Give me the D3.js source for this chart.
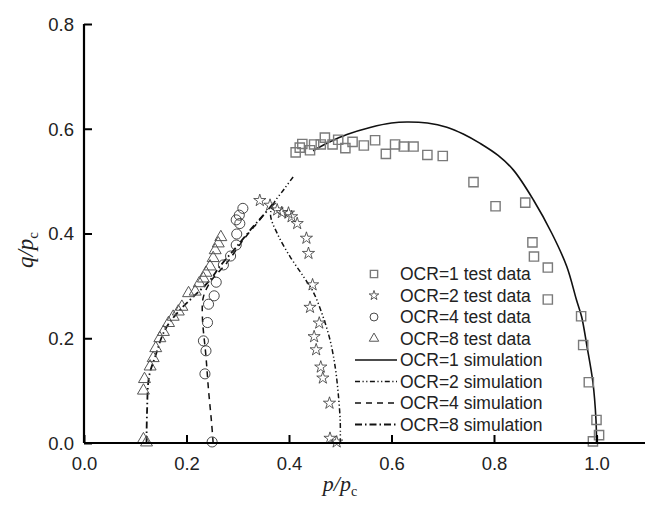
<!DOCTYPE html>
<html>
<head>
<meta charset="utf-8">
<script src="https://cdn.jsdelivr.net/npm/d3@7"></script>
<style>
  body { margin: 0; background: #fff; }
  text { font-family: "Liberation Sans", Arial, sans-serif; }
</style>
</head>
<body>
<svg width="645" height="516"></svg>
<script>
// test data (p/pc, q/pc)
var ocr1Data = [
  [0.413, 0.555], [0.421, 0.564], [0.426, 0.571], [0.441, 0.559], [0.449, 0.570],
  [0.462, 0.570], [0.470, 0.583], [0.485, 0.570], [0.496, 0.579], [0.510, 0.563],
  [0.524, 0.575], [0.546, 0.568], [0.568, 0.578], [0.589, 0.552], [0.607, 0.570],
  [0.624, 0.566], [0.643, 0.566], [0.670, 0.550], [0.700, 0.548], [0.760, 0.498],
  [0.803, 0.452], [0.861, 0.459], [0.875, 0.383], [0.878, 0.356], [0.905, 0.335],
  [0.905, 0.274], [0.970, 0.242], [0.974, 0.187], [0.985, 0.116], [1.000, 0.044],
  [1.005, 0.015], [0.993, 0.003]
];
var ocr2Data = [
  [0.343, 0.463], [0.363, 0.454], [0.377, 0.445], [0.386, 0.440], [0.399, 0.439],
  [0.405, 0.432], [0.416, 0.419], [0.434, 0.391], [0.438, 0.362], [0.446, 0.302],
  [0.441, 0.259], [0.459, 0.229], [0.449, 0.203], [0.453, 0.178], [0.462, 0.145],
  [0.466, 0.124], [0.479, 0.076], [0.480, 0.009], [0.493, 0.002]
];
var ocr4Data = [
  [0.250, 0.002], [0.236, 0.132], [0.238, 0.176], [0.233, 0.195], [0.241, 0.230],
  [0.243, 0.265], [0.254, 0.281], [0.258, 0.307], [0.272, 0.340], [0.286, 0.357],
  [0.297, 0.378], [0.298, 0.399], [0.297, 0.426], [0.304, 0.419], [0.303, 0.435],
  [0.310, 0.448]
];
var ocr8Data = [
  [0.116, 0.007], [0.122, 0.001], [0.116, 0.100], [0.118, 0.122], [0.129, 0.146],
  [0.135, 0.162], [0.140, 0.181], [0.148, 0.200], [0.155, 0.212], [0.165, 0.229],
  [0.174, 0.241], [0.184, 0.251], [0.191, 0.260], [0.204, 0.286], [0.217, 0.289],
  [0.225, 0.305], [0.233, 0.314], [0.238, 0.325], [0.246, 0.337], [0.252, 0.353],
  [0.256, 0.368], [0.262, 0.381], [0.267, 0.393]
];

// simulated stress paths
var ocr1Sim = [
  [1.000, 0.000], [1.000, 0.006], [0.999, 0.044], [0.993, 0.116], [0.981, 0.187],
  [0.971, 0.241], [0.961, 0.273], [0.942, 0.337], [0.913, 0.400], [0.877, 0.464],
  [0.838, 0.521], [0.808, 0.549], [0.773, 0.572], [0.740, 0.590], [0.708, 0.603],
  [0.670, 0.611], [0.630, 0.613], [0.600, 0.611], [0.560, 0.603], [0.513, 0.589],
  [0.480, 0.575], [0.447, 0.558]
];
var ocr2Sim = [
  [0.500, 0.000], [0.500, 0.040], [0.496, 0.095], [0.490, 0.146], [0.480, 0.197],
  [0.464, 0.248], [0.447, 0.289], [0.428, 0.318], [0.402, 0.356], [0.378, 0.398],
  [0.364, 0.435], [0.370, 0.457], [0.390, 0.484], [0.408, 0.508]
];
var ocr4Sim = [
  [0.252, 0.000], [0.249, 0.038], [0.243, 0.101], [0.238, 0.165], [0.231, 0.242],
  [0.233, 0.279], [0.249, 0.311], [0.278, 0.343], [0.311, 0.388], [0.337, 0.419],
  [0.356, 0.442]
];
var ocr8Sim = [
  [0.122, 0.000], [0.123, 0.060], [0.127, 0.127], [0.139, 0.165], [0.158, 0.216],
  [0.187, 0.254], [0.213, 0.279], [0.246, 0.311], [0.265, 0.337], [0.298, 0.375],
  [0.330, 0.413], [0.350, 0.435], [0.368, 0.456]
];

var xTicks = [0, 0.2, 0.4, 0.6, 0.8, 1.0];
var yTicks = [0, 0.2, 0.4, 0.6, 0.8];
var legendLabels = [
  "OCR=1 test data", "OCR=2 test data", "OCR=4 test data", "OCR=8 test data",
  "OCR=1 simulation", "OCR=2 simulation", "OCR=4 simulation", "OCR=8 simulation"
];

var svg = d3.select("svg");

var x = d3.scaleLinear().domain([0, 1.1]).range([84, 647.75]);
var y = d3.scaleLinear().domain([0, 0.8]).range([443, 24]);

var line = d3.line()
  .curve(d3.curveCatmullRom.alpha(0.5))
  .x(function (d) { return x(d[0]); })
  .y(function (d) { return y(d[1]); });

// styles for the four test series and the four simulations
var markers = [
  { data: ocr1Data, type: d3.symbolSquare, size: 85, stroke: "#7a7a7a", sw: 1.4 },
  { data: ocr2Data, type: d3.symbolStar, size: 46, stroke: "#333", sw: 0.8 },
  { data: ocr4Data, type: d3.symbolCircle, size: 80, stroke: "#333", sw: 0.9 },
  { data: ocr8Data, type: d3.symbolTriangle, size: 62, stroke: "#555", sw: 1.0 }
];
var sims = [
  { data: ocr1Sim, dash: null, sw: 1.6 },
  { data: ocr2Sim, dash: "5,2.5,1.2,2.5,1.2,2.5", sw: 1.5 },
  { data: ocr4Sim, dash: "6,5", sw: 1.5 },
  { data: ocr8Sim, dash: "7,3,1.5,3", sw: 1.8 }
];

sims.forEach(function (s) {
  svg.append("path")
    .attr("d", line(s.data))
    .attr("fill", "none")
    .attr("stroke", "#111")
    .attr("stroke-width", s.sw)
    .attr("stroke-dasharray", s.dash);
});

markers.forEach(function (m) {
  svg.append("g")
    .selectAll("path")
    .data(m.data)
    .enter()
    .append("path")
    .attr("d", d3.symbol().type(m.type).size(m.size))
    .attr("transform", function (d) {
      return "translate(" + x(d[0]) + "," + y(d[1]) + ")";
    })
    .attr("fill", "none")
    .attr("stroke", m.stroke)
    .attr("stroke-width", m.sw);
});

// axes
var xAxis = svg.append("g")
  .attr("transform", "translate(0," + y(0) + ")")
  .call(d3.axisTop(x).tickValues(xTicks).tickSize(8).tickFormat(d3.format(".1f")));
xAxis.select(".domain").attr("d", "M84,0H645").attr("stroke-width", 2.2);
xAxis.selectAll(".tick line").attr("stroke-width", 2);
xAxis.selectAll(".tick text")
  .attr("y", 27).attr("dy", 0)
  .attr("font-size", 18.5).attr("fill", "#222");

var yAxis = svg.append("g")
  .attr("transform", "translate(" + x(0) + ",0)")
  .call(d3.axisRight(y).tickValues(yTicks).tickSize(8).tickFormat(d3.format(".1f")));
yAxis.select(".domain").attr("d", "M0,24V443").attr("stroke-width", 2.2);
yAxis.selectAll(".tick line").attr("stroke-width", 2);
yAxis.selectAll(".tick text")
  .attr("x", -10).attr("dy", "0.35em")
  .attr("text-anchor", "end")
  .attr("font-size", 18.5).attr("fill", "#222");
svg.selectAll(".tick text").attr("font-family", "Liberation Sans, Arial, sans-serif");

// axis titles
var xt = svg.append("text")
  .attr("x", 340).attr("y", 491)
  .attr("text-anchor", "middle")
  .style("font-family", "Liberation Serif, serif")
  .style("font-style", "italic")
  .attr("font-size", 22).attr("fill", "#222");
xt.append("tspan").text("p/p");
xt.append("tspan").attr("dy", 5).attr("font-size", 14).style("font-style", "normal").text("c");

var yt = svg.append("text")
  .attr("transform", "translate(33,250) rotate(-90)")
  .attr("text-anchor", "middle")
  .style("font-family", "Liberation Serif, serif")
  .style("font-style", "italic")
  .attr("font-size", 23).attr("fill", "#222");
yt.append("tspan").text("q/p");
yt.append("tspan").attr("dy", 5).attr("font-size", 15).style("font-style", "normal").text("c");

// legend
var legend = svg.append("g");
var rowY = function (i) { return 274 + i * 21.5; };
legendLabels.forEach(function (lab, i) {
  var cy = rowY(i);
  if (i < 4) {
    var m = markers[i];
    legend.append("path")
      .attr("d", d3.symbol().type(m.type).size(m.size * 0.62))
      .attr("transform", "translate(374," + cy + ")")
      .attr("fill", "none")
      .attr("stroke", m.stroke)
      .attr("stroke-width", m.sw);
  } else {
    var s = sims[i - 4];
    legend.append("line")
      .attr("x1", 355).attr("x2", 397)
      .attr("y1", cy).attr("y2", cy)
      .attr("stroke", "#111")
      .attr("stroke-width", s.sw)
      .attr("stroke-dasharray", s.dash);
  }
  legend.append("text")
    .attr("x", 400).attr("y", cy).attr("dy", "0.35em")
    .attr("font-size", 17.5).attr("fill", "#222")
    .text(lab);
});
</script>
</body>
</html>
